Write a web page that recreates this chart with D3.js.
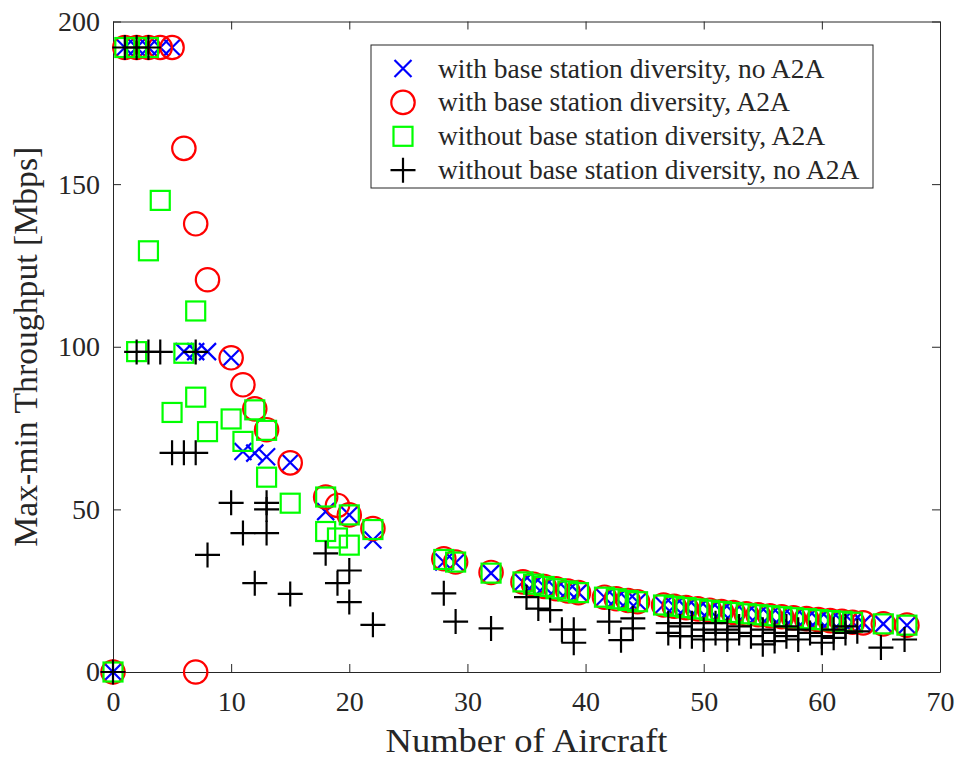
<!DOCTYPE html>
<html>
<head>
<meta charset="utf-8">
<title>Max-min Throughput</title>
<script src="https://cdn.jsdelivr.net/npm/d3@7"></script>
<style>
  body { margin: 0; background: #fff; }
  svg text { font-family: "Liberation Serif", "Times New Roman", serif; fill: #262626; }
</style>
</head>
<body>
<svg id="chart" width="958" height="760"></svg>
<script>
// ---- data ----
var xTicks = [0, 10, 20, 30, 40, 50, 60, 70]
var yTicks = [0, 50, 100, 150, 200]

// with base station diversity, no A2A  (blue x)
var bsNoA2A_x = [0, 1, 2, 3, 4, 5, 6, 7, 8, 10, 11, 12, 13, 15, 18, 20, 22, 28, 29, 32,
  34.7, 35.6, 36.5, 37.5, 38.5, 39.4, 41.6, 42.6, 43.6, 44.4,
  46.6, 47.5, 48.5, 49.5, 50.5, 51.5, 52.5, 53.6, 54.6, 55.6, 56.6, 57.6, 58.7, 59.7, 60.7, 61.7, 62.6, 63.5,
  65.2, 67.2]
var bsNoA2A_y = [0, 192, 192, 192, 192, 192, 98.5, 98.5, 98.5, 96.6, 67.8, 67.3, 66.2, 64.4, 49.3, 48.3, 40.6, 33.8, 33.6, 30.4,
  27.7, 27.0, 26.3, 25.6, 24.9, 24.4, 23.0, 22.5, 22.0, 21.6,
  20.6, 20.2, 19.8, 19.4, 19.0, 18.6, 18.3, 17.9, 17.6, 17.3, 17.0, 16.7, 16.4, 16.1, 15.8, 15.6, 15.3, 15.1,
  14.8, 14.4]

// with base station diversity, A2A  (red o)
var bsA2A_x = [0, 1, 2, 3, 4, 5, 6, 7, 8, 7, 10, 11, 12, 13, 15, 18, 19, 20, 22, 28, 29, 32,
  34.7, 35.6, 36.5, 37.5, 38.5, 39.4, 41.6, 42.6, 43.6, 44.4,
  46.6, 47.5, 48.5, 49.5, 50.5, 51.5, 52.5, 53.6, 54.6, 55.6, 56.6, 57.6, 58.7, 59.7, 60.7, 61.7, 62.6, 63.5,
  65.2, 67.2]
var bsA2A_y = [0, 192, 192, 192, 192, 192, 161, 137.8, 120.6, 0, 96.6, 88.3, 80.9, 74.5, 64.3, 53.8, 51.2, 48.3, 44.1, 34.8, 33.8, 30.6,
  27.7, 27.0, 26.3, 25.6, 24.9, 24.4, 23.0, 22.5, 22.0, 21.6,
  20.6, 20.2, 19.8, 19.4, 19.0, 18.6, 18.3, 17.9, 17.6, 17.3, 17.0, 16.7, 16.4, 16.1, 15.8, 15.6, 15.3, 15.1,
  14.8, 14.4]

// without base station diversity, A2A  (green square)
var noBsA2A_x = [0, 1, 2, 3, 2, 3, 4, 5, 6, 7, 7, 8, 10, 11, 12, 13, 13, 15, 18, 18, 19, 20, 20, 22, 28, 29, 32,
  34.7, 35.6, 36.5, 37.5, 38.5, 39.4, 41.6, 42.6, 43.6, 44.4,
  46.6, 47.5, 48.5, 49.5, 50.5, 51.5, 52.5, 53.6, 54.6, 55.6, 56.6, 57.6, 58.7, 59.7, 60.7, 61.7, 62.6,
  65.2, 67.2]
var noBsA2A_y = [0, 192, 192, 192, 98.5, 129.5, 145, 79.8, 98, 111, 84.5, 73.9, 77.8, 70.9, 80.6, 74.3, 59.9, 51.9, 53.8, 43.2, 41.2, 48.3, 39, 43.8, 34.6, 33.8, 30.4,
  27.7, 27.0, 26.3, 25.6, 24.9, 24.4, 23.0, 22.5, 22.0, 21.6,
  20.6, 20.2, 19.8, 19.4, 19.0, 18.6, 18.3, 17.9, 17.6, 17.3, 17.0, 16.7, 16.4, 16.1, 15.8, 15.6, 15.3,
  14.8, 14.4]

// without base station diversity, no A2A  (black +)
var noBsNoA2A_x = [0, 1, 2, 3, 2, 3, 4, 7, 5, 6, 7, 10, 13, 13, 11, 13, 8, 12, 15, 18, 20, 19, 20, 22, 28, 29, 32,
  35, 36, 37, 38, 39, 39, 42, 43, 44, 44,
  47, 47, 48, 48, 49, 49, 50, 50, 51, 51, 52, 52, 53, 53, 54, 55, 55, 56, 56, 57, 57, 58, 58, 59, 60, 60, 61, 61, 62, 62, 63,
  65, 67]
var noBsNoA2A_y = [0, 192, 192, 192, 98.4, 98.4, 98.4, 98.4, 67.4, 67.4, 67.4, 52, 52, 50, 42.7, 42.7, 36, 27.3, 24, 36.5, 31.2, 27.3, 21.5, 14.5, 24.2, 15.5, 13.4,
  23, 19.5, 19, 13, 13, 9, 15.5, 9.8, 16.5, 13.4,
  15, 12, 14, 11, 15, 11, 13, 10, 15, 12, 10, 13, 14, 12, 11, 13, 8.5, 12, 9.5, 14, 11, 13, 10, 12, 11, 9, 13, 10.5, 12, 14, 12.5,
  7.5, 10]

var legendLabels = [
  'with base station diversity, no A2A',
  'with base station diversity, A2A',
  'without base station diversity, A2A',
  'without base station diversity, no A2A'
]

// ---- layout ----
var svg = d3.select('#chart')
var plotL = 113, plotR = 940, plotT = 21.5, plotB = 672

var x = d3.scaleLinear().domain([0, 70]).range([plotL, plotR])
var y = d3.scaleLinear().domain([0, 200]).range([plotB, plotT])

// axes, MATLAB style: ticks inward, box all round
svg.append('g')
  .attr('transform', 'translate(0,' + plotB + ')')
  .call(d3.axisBottom(x).tickValues(xTicks).tickSizeInner(-8).tickSizeOuter(0).tickPadding(19))
svg.append('g')
  .attr('transform', 'translate(' + plotL + ',0)')
  .call(d3.axisLeft(y).tickValues(yTicks).tickSizeInner(-8).tickSizeOuter(0).tickPadding(13))
svg.append('g')
  .attr('transform', 'translate(0,' + plotT + ')')
  .call(d3.axisTop(x).tickValues(xTicks).tickSizeInner(-8).tickSizeOuter(0).tickFormat(''))
svg.append('g')
  .attr('transform', 'translate(' + plotR + ',0)')
  .call(d3.axisRight(y).tickValues(yTicks).tickSizeInner(-8).tickSizeOuter(0).tickFormat(''))

svg.selectAll('.domain').attr('stroke', '#262626').attr('stroke-width', 1)
svg.selectAll('.tick line').attr('stroke', '#262626')
svg.selectAll('.tick text')
  .style('font-family', '"Liberation Serif", serif')
  .attr('font-size', 28)
  .attr('fill', '#262626')

// axis titles
svg.append('text')
  .attr('x', (plotL + plotR) / 2)
  .attr('y', 752)
  .attr('text-anchor', 'middle')
  .attr('font-size', 33)
  .attr('textLength', 282)
  .attr('lengthAdjust', 'spacingAndGlyphs')
  .text('Number of Aircraft')

svg.append('text')
  .attr('transform', 'translate(37,' + ((plotT + plotB) / 2) + ') rotate(-90)')
  .attr('text-anchor', 'middle')
  .attr('font-size', 33)
  .attr('textLength', 400)
  .attr('lengthAdjust', 'spacingAndGlyphs')
  .text('Max-min Throughput [Mbps]')

// ---- markers ----
var plot = svg.append('g')

function pts(xs, ys) {
  return xs.map(function (v, i) { return [v, ys[i]] })
}

function drawX(g, cx, cy) {
  var h = 8.5
  g.append('path')
    .attr('d', 'M' + (cx - h) + ',' + (cy - h) + 'L' + (cx + h) + ',' + (cy + h) +
      'M' + (cx - h) + ',' + (cy + h) + 'L' + (cx + h) + ',' + (cy - h))
    .attr('stroke', '#0000ff').attr('stroke-width', 2.2).attr('fill', 'none')
}
function drawO(g, cx, cy) {
  g.append('circle').attr('cx', cx).attr('cy', cy).attr('r', 11.7)
    .attr('stroke', '#ff0000').attr('stroke-width', 2.2).attr('fill', 'none')
}
function drawSq(g, cx, cy) {
  g.append('rect').attr('x', cx - 9.5).attr('y', cy - 9.5).attr('width', 19).attr('height', 19)
    .attr('stroke', '#00ff00').attr('stroke-width', 2.2).attr('fill', 'none')
}
function drawPlus(g, cx, cy) {
  g.append('path')
    .attr('d', 'M' + (cx - 12.5) + ',' + cy + 'L' + (cx + 12.5) + ',' + cy +
      'M' + cx + ',' + (cy - 12.5) + 'L' + cx + ',' + (cy + 12.5))
    .attr('stroke', '#000').attr('stroke-width', 2.2).attr('fill', 'none')
}

pts(bsNoA2A_x, bsNoA2A_y).forEach(function (d) { drawX(plot, x(d[0]), y(d[1])) })
pts(bsA2A_x, bsA2A_y).forEach(function (d) { drawO(plot, x(d[0]), y(d[1])) })
pts(noBsA2A_x, noBsA2A_y).forEach(function (d) { drawSq(plot, x(d[0]), y(d[1])) })
pts(noBsNoA2A_x, noBsNoA2A_y).forEach(function (d) { drawPlus(plot, x(d[0]), y(d[1])) })

// ---- legend ----
var lg = svg.append('g')
lg.append('rect')
  .attr('x', 371).attr('y', 45).attr('width', 502).attr('height', 143)
  .attr('fill', '#fff').attr('stroke', '#262626').attr('stroke-width', 1)

var drawers = [drawX, drawO, drawSq, drawPlus]
legendLabels.forEach(function (label, i) {
  var cy = 68.5 + i * 33.9
  drawers[i](lg, 403, cy)
  lg.append('text')
    .attr('x', 438)
    .attr('y', cy)
    .attr('dy', '0.33em')
    .attr('font-size', 27.5)
    .attr('fill', '#000')
    .text(label)
})
</script>
</body>
</html>
